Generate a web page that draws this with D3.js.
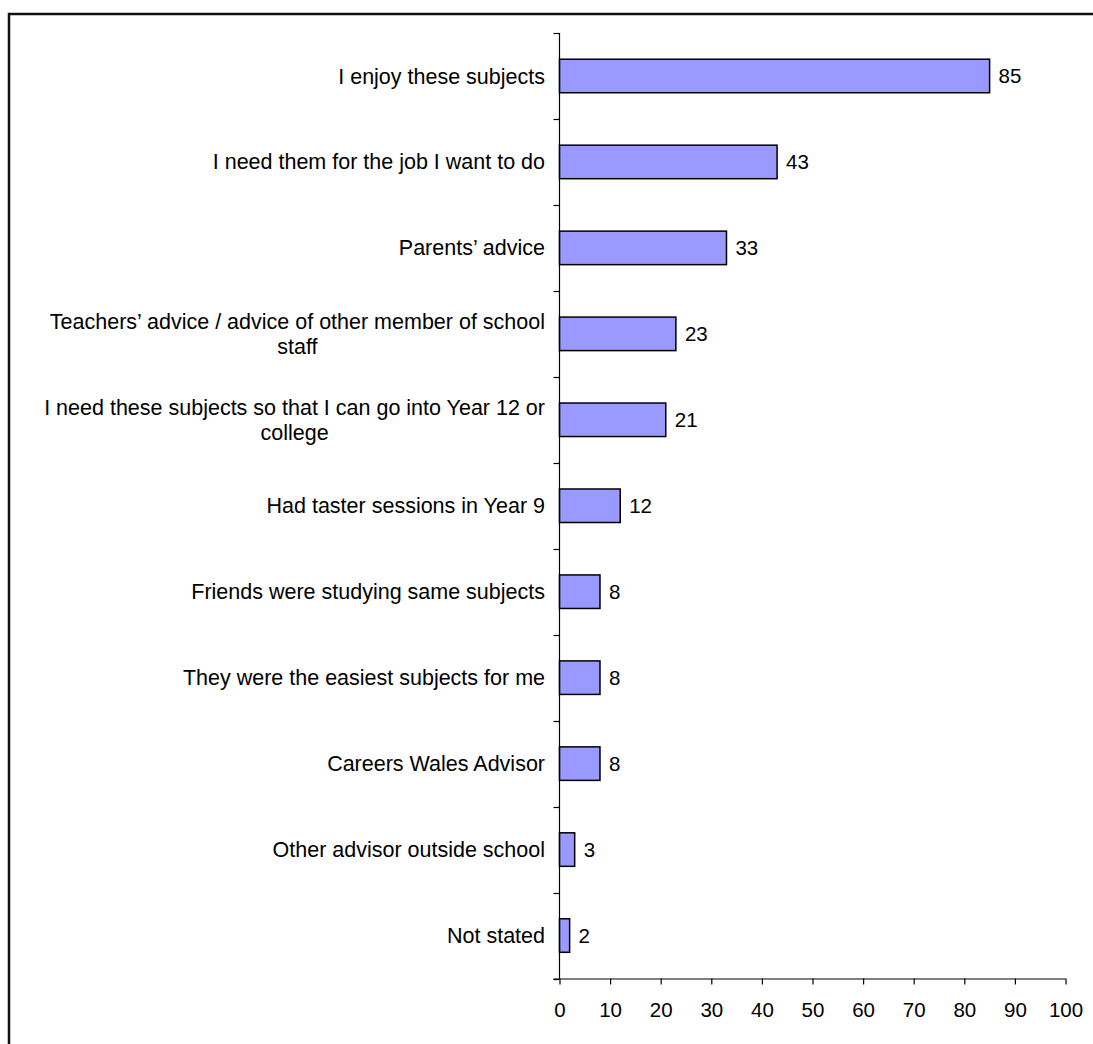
<!DOCTYPE html>
<html>
<head>
<meta charset="utf-8">
<script src="https://cdn.jsdelivr.net/npm/d3@7"></script>
<style>
  html, body { margin: 0; padding: 0; background: #fff; }
  svg { display: block; }
  text { font-family: "Liberation Sans", Arial, sans-serif; fill: #000; }
</style>
</head>
<body>
<svg id="chart" width="1093" height="1044"></svg>
<script>
const categories = [
  "I enjoy these subjects",
  "I need them for the job I want to do",
  "Parents’ advice",
  "Teachers’ advice / advice of other member of school staff",
  "I need these subjects so that I can go into Year 12 or college",
  "Had taster sessions in Year 9",
  "Friends were studying same subjects",
  "They were the easiest subjects for me",
  "Careers Wales Advisor",
  "Other advisor outside school",
  "Not stated"
];
const values = [85, 43, 33, 23, 21, 12, 8, 8, 8, 3, 2];
const xTicks = [0, 10, 20, 30, 40, 50, 60, 70, 80, 90, 100];

(function () {
const svg = d3.select("#chart");
const pLeft = 559.5, pRight = 1065.5, pTop = 33, pBottom = 978.5;
const fontSize = 21.5, tickFont = 20.5;

// frame
svg.append("rect")
  .attr("x", 9).attr("y", 14)
  .attr("width", 1200).attr("height", 1200)
  .attr("fill", "none").attr("stroke", "#111").attr("stroke-width", 2.5);

const x = d3.scaleLinear().domain([0, 100]).range([pLeft, pRight]);
const y = d3.scaleBand().domain(categories).range([pTop, pBottom]).paddingInner(0.61).paddingOuter(0.305);

// bars
svg.append("g").selectAll("rect").data(values).join("rect")
  .attr("x", x(0))
  .attr("y", (d, i) => y(categories[i]))
  .attr("width", d => x(d) - x(0))
  .attr("height", y.bandwidth())
  .attr("fill", "#9999FF")
  .attr("stroke", "#000")
  .attr("stroke-width", 1.5);

// value labels
svg.append("g").selectAll("text").data(values).join("text")
  .attr("x", d => x(d) + 9)
  .attr("y", (d, i) => y(categories[i]) + y.bandwidth() / 2)
  .attr("dy", "0.35em")
  .attr("font-size", tickFont)
  .text(d => d);

// left axis line and ticks at band boundaries
const step = (pBottom - pTop) / categories.length;
const gl = svg.append("g");
gl.append("line").attr("x1", pLeft).attr("x2", pLeft).attr("y1", pTop).attr("y2", pBottom)
  .attr("stroke", "#000").attr("stroke-width", 1.2);
const bounds = d3.range(categories.length + 1).map(i => pTop + i * step);
gl.selectAll("line.t").data(bounds).join("line").attr("class", "t")
  .attr("x1", pLeft - 6).attr("x2", pLeft)
  .attr("y1", d => Math.round(d) + 0.5).attr("y2", d => Math.round(d) + 0.5)
  .attr("stroke", "#000").attr("stroke-width", 1.2);

// category labels (wrapped, centered block, right edge near axis)
const labelRight = 545, maxW = 510, lineH = 25;
const lg = svg.append("g");
categories.forEach((c, i) => {
  const cy = y(c) + y.bandwidth() / 2;
  const t = lg.append("text").attr("font-size", fontSize);
  const words = c.split(" ");
  const lines = [];
  let cur = "";
  const probe = svg.append("text").attr("font-size", fontSize).attr("visibility", "hidden");
  words.forEach(w => {
    const test = cur ? cur + " " + w : w;
    probe.text(test);
    if (probe.node().getComputedTextLength() > maxW && cur) { lines.push(cur); cur = w; }
    else cur = test;
  });
  lines.push(cur);
  const widths = lines.map(l => { probe.text(l); return probe.node().getComputedTextLength(); });
  probe.remove();
  const blockW = Math.max(...widths);
  const cx = labelRight - blockW / 2;
  lines.forEach((l, k) => {
    t.append("tspan")
      .attr("x", lines.length > 1 ? cx : labelRight)
      .attr("text-anchor", lines.length > 1 ? "middle" : "end")
      .attr("y", cy + (k - (lines.length - 1) / 2) * lineH)
      .attr("dy", "0.35em")
      .text(l);
  });
});

// bottom axis
const xAxis = d3.axisBottom(x).tickValues(xTicks).tickSize(6).tickPadding(18).tickSizeOuter(0);
const gb = svg.append("g").attr("transform", `translate(0,${pBottom})`).call(xAxis);
gb.select(".domain").attr("d", `M${pLeft - 6},0.5H${pRight}`).attr("stroke", "#000").attr("stroke-width", 1.2);
gb.selectAll(".tick line").attr("stroke", "#000").attr("stroke-width", 1.2);
gb.selectAll(".tick text").attr("font-size", tickFont).attr("font-family", "Liberation Sans, Arial, sans-serif").attr("fill", "#000");
})();
</script>
</body>
</html>
